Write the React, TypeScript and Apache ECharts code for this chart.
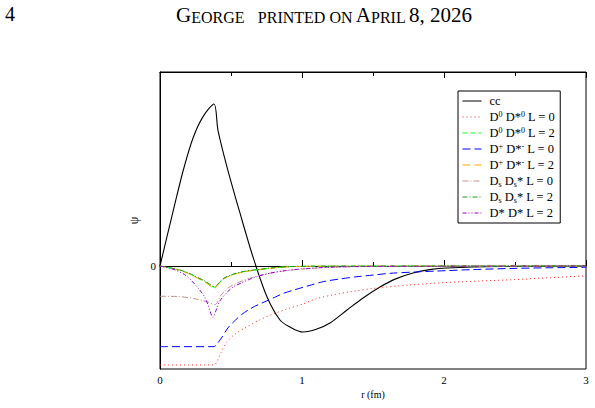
import React, { useEffect, useRef } from 'react';
import * as echarts from 'echarts';

const xTickLabels = ['0', '1', '2', '3'];
const seriesNames = [
  'cc',
  'D0 D*0 L = 0',
  'D0 D*0 L = 2',
  'D+ D*- L = 0',
  'D+ D*- L = 2',
  'Ds Ds* L = 0',
  'Ds Ds* L = 2',
  'D* D* L = 2',
];
const legendRich = [
  'cc',
  'D{sup|0} D*{sup|0} L = 0',
  'D{sup|0} D*{sup|0} L = 2',
  'D{sup|+} D*{sup|-} L = 0',
  'D{sup|+} D*{sup|-} L = 2',
  'D{sub|s} D{sub|s}* L = 0',
  'D{sub|s} D{sub|s}* L = 2',
  'D* D* L = 2',
];

const ccData = [
  [0, 0], [0.05, 0.29], [0.092, 0.53], [0.162, 0.92], [0.232, 1.24], [0.303, 1.45], [0.38, 1.573],
  [0.408, 1.32], [0.472, 0.961], [0.563, 0.515], [0.655, 0.087], [0.754, -0.301], [0.845, -0.524],
  [0.915, -0.592], [1.007, -0.641], [1.1, -0.615], [1.197, -0.553], [1.317, -0.427], [1.43, -0.31],
  [1.549, -0.204], [1.66, -0.125], [1.782, -0.068], [1.9, -0.035], [2.021, -0.019], [2.4, -0.005], [3, 0],
];
const d0L0Data = [
  [0, -0.961], [0.38, -0.961], [0.4, -0.93], [0.43, -0.84], [0.47, -0.74], [0.52, -0.67], [0.6, -0.6],
  [0.7, -0.525], [0.8, -0.465], [0.9, -0.415], [1.0, -0.372], [1.1, -0.318], [1.22, -0.28], [1.34, -0.25],
  [1.5, -0.218], [1.75, -0.185], [2.0, -0.162], [2.25, -0.146], [2.5, -0.132], [2.75, -0.113], [3, -0.097],
];
const d0L2Data = [
  [0, 0], [0.127, -0.036], [0.2, -0.07], [0.244, -0.1], [0.315, -0.149], [0.385, -0.207], [0.42, -0.16],
  [0.456, -0.117], [0.5, -0.09], [0.549, -0.068], [0.62, -0.048], [0.69, -0.036], [0.8, -0.018],
  [0.92, -0.006], [1.2, -0.002], [3, 0],
];
const dpL0Data = [
  [0, -0.783], [0.38, -0.783], [0.4, -0.76], [0.437, -0.69], [0.479, -0.6], [0.52, -0.54], [0.573, -0.473],
  [0.63, -0.42], [0.69, -0.376], [0.75, -0.34], [0.808, -0.304], [0.87, -0.265], [0.95, -0.23],
  [1.05, -0.19], [1.15, -0.152], [1.27, -0.125], [1.387, -0.104], [1.5, -0.088], [1.62, -0.071],
  [1.8, -0.058], [1.95, -0.049], [2.2, -0.035], [2.5, -0.023], [2.75, -0.017], [3, -0.013],
];
const dpL2Data = [
  [0, 0], [0.127, -0.038], [0.2, -0.073], [0.244, -0.104], [0.315, -0.154], [0.385, -0.215], [0.42, -0.165],
  [0.456, -0.12], [0.5, -0.092], [0.549, -0.07], [0.62, -0.05], [0.69, -0.037], [0.8, -0.019],
  [0.92, -0.007], [1.2, -0.002], [3, 0],
];
const dsL0Data = [
  [0, -0.294], [0.127, -0.296], [0.244, -0.318], [0.338, -0.35], [0.385, -0.376], [0.432, -0.279],
  [0.479, -0.214], [0.52, -0.18], [0.573, -0.149], [0.63, -0.12], [0.69, -0.095], [0.78, -0.068],
  [0.878, -0.046], [1.0, -0.03], [1.2, -0.013], [1.5, -0.005], [3, 0],
];
const dsL2Data = [
  [0, 0], [0.127, -0.034], [0.2, -0.067], [0.244, -0.097], [0.315, -0.145], [0.385, -0.2], [0.42, -0.155],
  [0.456, -0.113], [0.5, -0.087], [0.549, -0.065], [0.62, -0.046], [0.69, -0.034], [0.8, -0.017],
  [0.92, -0.005], [1.2, -0.001], [3, 0],
];
const dstarData = [
  [0, 0], [0.09, -0.03], [0.174, -0.084], [0.22, -0.14], [0.268, -0.214], [0.31, -0.29], [0.338, -0.376],
  [0.373, -0.498], [0.4, -0.41], [0.42, -0.343], [0.45, -0.29], [0.479, -0.246], [0.52, -0.2],
  [0.573, -0.165], [0.63, -0.13], [0.69, -0.1], [0.78, -0.068], [0.878, -0.046], [1.0, -0.028],
  [1.2, -0.012], [1.5, -0.004], [3, 0],
];

const seriesData = [ccData, d0L0Data, d0L2Data, dpL0Data, dpL2Data, dsL0Data, dsL2Data, dstarData];
const seriesColors = ['#000000', '#ff2020', '#10ff10', '#0000ff', '#ffa500', '#c09090', '#229922', '#9400d3'];
const seriesDash: any[] = ['solid', [1, 3], [5, 3], [8, 4], [8, 4], [6, 2, 1, 2], [5, 2, 1, 2], [4, 2, 1, 2, 1, 2]];

const serif = 'Liberation Serif';

export default function App() {
  const ref = useRef<HTMLDivElement>(null);
  useEffect(() => {
    const chart = echarts.init(ref.current!, null, { renderer: 'svg' });
    const series = seriesNames.map((name, i) => ({
      name,
      type: 'line',
      data: seriesData[i],
      showSymbol: false,
      symbol: 'none',
      smooth: 0.3,
      lineStyle: { color: seriesColors[i], width: i === 0 ? 1.1 : 1, type: seriesDash[i] },
      itemStyle: { color: seriesColors[i] },
      z: 2 + i,
    }));
    chart.setOption({
      animation: false,
      backgroundColor: '#ffffff',
      textStyle: { fontFamily: serif },
      grid: { left: 160, right: 9, top: 72, bottom: 39, show: true, borderColor: '#000', borderWidth: 1, backgroundColor: 'transparent' },
      xAxis: [
        {
          type: 'value', min: 0, max: 3, interval: 1,
          name: 'r (fm)', nameLocation: 'middle', nameGap: 17,
          nameTextStyle: { fontFamily: serif, fontSize: 10, color: '#000' },
          axisLine: { lineStyle: { color: '#000', width: 1 } },
          axisTick: { show: true, inside: true, length: 6, lineStyle: { color: '#000' } },
          minorTick: { show: true, splitNumber: 2, length: 4, lineStyle: { color: '#000' } },
          splitLine: { show: false },
          axisLabel: {
            fontFamily: serif, fontSize: 11, color: '#000', margin: 5,
            formatter: (v: number) => xTickLabels[Math.round(v)] ?? '',
          },
        },
        {
          type: 'value', min: 0, max: 3, interval: 1, position: 'top',
          axisLine: { lineStyle: { color: '#000', width: 1 } },
          axisTick: { show: true, inside: true, length: 6, lineStyle: { color: '#000' } },
          minorTick: { show: true, splitNumber: 2, length: 4, lineStyle: { color: '#000' } },
          splitLine: { show: false },
          axisLabel: { show: false },
        },
      ],
      yAxis: {
        type: 'value', min: -1, max: 1.8835, interval: 1,
        name: 'ψ', nameLocation: 'middle', nameGap: 9,
        nameTextStyle: { fontFamily: serif, fontSize: 12, color: '#000' },
        axisLine: { show: true, lineStyle: { color: '#000', width: 1 } },
        axisTick: { show: false },
        splitLine: { show: false },
        axisLabel: {
          fontFamily: serif, fontSize: 11, color: '#000', margin: 4,
          formatter: (v: number) => (Math.abs(v) < 1e-9 ? '0' : ''),
        },
      },
      legend: {
        orient: 'vertical',
        left: 458, top: 91,
        padding: [3, 5, 3, 4],
        itemWidth: 19, itemHeight: 10, itemGap: 2,
        backgroundColor: '#ffffff',
        borderColor: '#000', borderWidth: 1, borderRadius: 0,
        itemStyle: { opacity: 0 },
        lineStyle: { width: 1 },
        data: seriesNames,
        formatter: (name: string) => legendRich[seriesNames.indexOf(name)],
        textStyle: {
          fontFamily: serif, fontSize: 12.5, color: '#000', lineHeight: 14, padding: [0, 0, 0, 3],
          rich: {
            sup: { fontFamily: serif, fontSize: 8, lineHeight: 8, verticalAlign: 'top', color: '#000' },
            sub: { fontFamily: serif, fontSize: 8, lineHeight: 8, verticalAlign: 'bottom', color: '#000' },
          },
        },
      },
      graphic: [
        { type: 'text', left: 5, top: 4, style: { text: '4', font: `20px "${serif}"`, fill: '#000' } },
        {
          type: 'text', x: 324, y: 3,
          style: {
            text: '{b|G}{s|EORGE}    {s|PRINTED ON} {b|A}{s|PRIL} {b|8, 2026}',
            align: 'center', verticalAlign: 'top', fill: '#000',
            rich: {
              b: { fontFamily: serif, fontSize: 21, verticalAlign: 'bottom', lineHeight: 22 },
              s: { fontFamily: serif, fontSize: 16, verticalAlign: 'bottom', lineHeight: 22 },
            },
          },
        },
      ],
      series,
    });
    return () => chart.dispose();
  }, []);
  return <div ref={ref} style={{ position: 'absolute', left: 0, top: 0, width: 595, height: 408 }} />;
}
